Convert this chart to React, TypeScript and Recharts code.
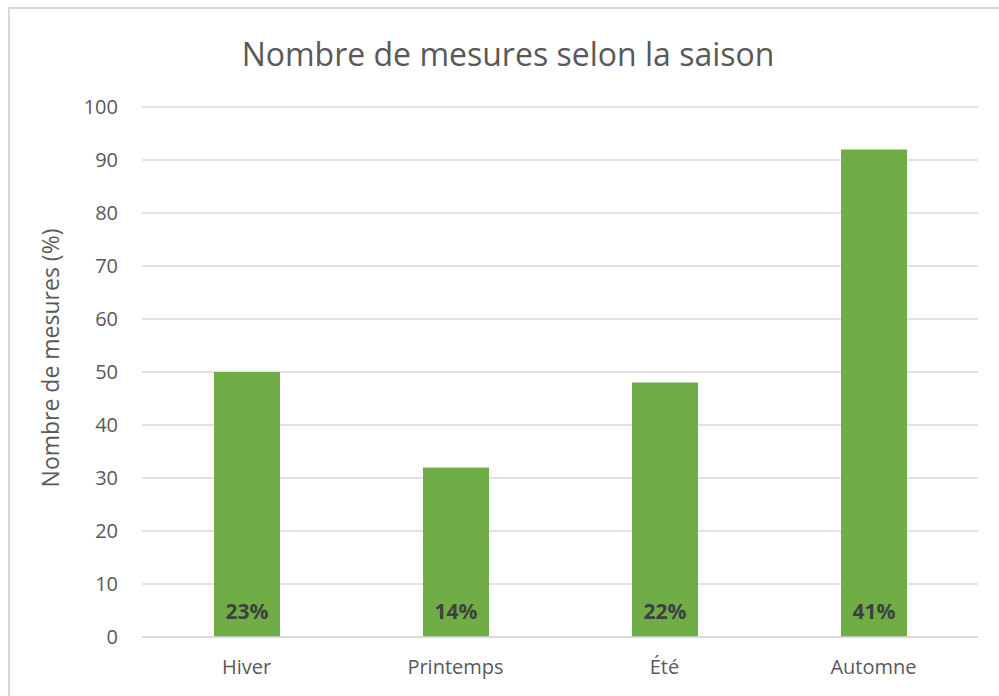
import { BarChart, Bar, XAxis, YAxis, CartesianGrid, LabelList } from "recharts";

// Seasons and values
const seasons = ["Hiver", "Printemps", "Été", "Automne"];
const counts = [50, 32, 48, 92];
const shares = ["23%", "14%", "22%", "41%"];
const yTicks = [0, 10, 20, 30, 40, 50, 60, 70, 80, 90, 100];

const data = seasons.map((s, i) => ({ season: s, count: counts[i], share: shares[i] }));

const FONT = "'Open Sans', 'Noto Sans', sans-serif";
const TEXT = "#595959";

const ShareLabel = (props: any) => {
  const { x, y, width, height, index } = props;
  return (
    <text
      x={x + width / 2}
      y={y + height - 26}
      textAnchor="middle"
      dominantBaseline="central"
      fontFamily={FONT}
      fontWeight={700}
      fontSize={21}
      fill="#404040"
    >
      {shares[index]}
    </text>
  );
};

export default function App() {
  return (
    <div style={{ position: "absolute", left: 0, top: 0, width: 999, height: 696, background: "#fff", overflow: "hidden" }}>
      {/* chart frame */}
      <div
        style={{
          position: "absolute",
          left: 8,
          top: 7,
          width: 1020,
          height: 720,
          border: "2px solid #d9d9d9",
        }}
      />
      <div style={{ position: "absolute", left: 0, top: 0 }}>
        <BarChart width={999} height={696} data={data} margin={{ top: 107, right: 21, bottom: 29, left: 0 }} barSize={66}>
          <text x={508} y={53} textAnchor="middle" dominantBaseline="central" fontFamily={FONT} fontSize={32} fill={TEXT}>
            Nombre de mesures selon la saison
          </text>
          <text
            x={50}
            y={358}
            transform="rotate(-90, 50, 358)"
            textAnchor="middle"
            dominantBaseline="central"
            fontFamily={FONT}
            fontSize={23}
            fill={TEXT}
          >
            Nombre de mesures (%)
          </text>
          <CartesianGrid vertical={false} stroke="#d9d9d9" strokeWidth={1.5} />
          <XAxis
            dataKey="season"
            height={30}
            axisLine={{ stroke: "#d9d9d9", strokeWidth: 1.5 }}
            tickLine={false}
            tickMargin={17}
            tick={{ fontFamily: FONT, fontSize: 20, fill: TEXT }}
          />
          <YAxis
            width={142}
            domain={[0, 100]}
            ticks={yTicks}
            axisLine={false}
            tickLine={false}
            tickMargin={18}
            tick={{ fontFamily: FONT, fontSize: 20, fill: TEXT }}
          />
          <Bar dataKey="count" fill="#70ad47" isAnimationActive={false}>
            <LabelList dataKey="share" content={<ShareLabel />} />
          </Bar>
        </BarChart>
      </div>
    </div>
  );
}
